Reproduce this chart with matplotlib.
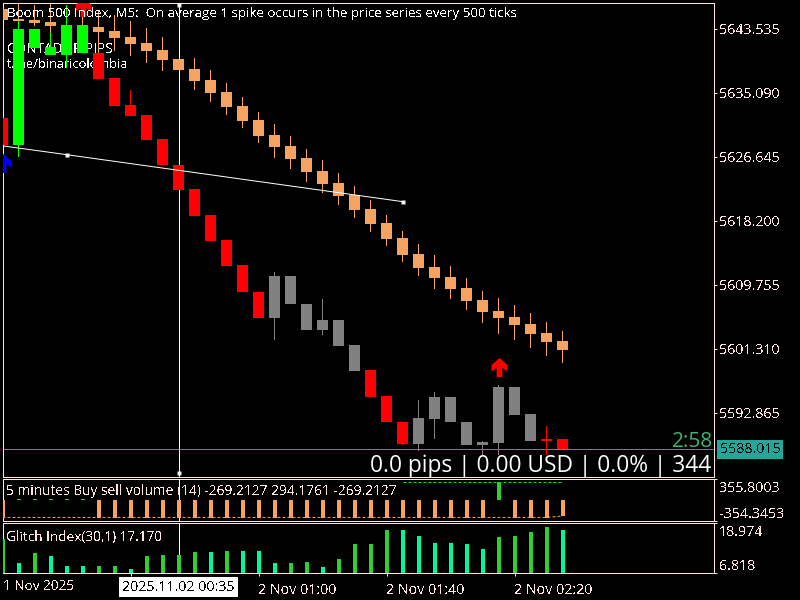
import numpy as np
import matplotlib
matplotlib.use("Agg")
import matplotlib.pyplot as plt
from matplotlib.path import Path

plt.rcParams['font.family'] = ['Open Sans', 'DejaVu Sans']
plt.rcParams['text.antialiased'] = False
plt.rcParams['text.hinting'] = 'native'

# price chart, peach candles
a_open = [5646.17, 5644.86, 5644.72, 5644.46, 5644.06, 5644.06, 5643.80, 5643.27, 5642.48, 5641.69, 5640.76, 5639.58,
          5638.26, 5636.81, 5635.22, 5633.38, 5631.53, 5629.55, 5628.10, 5626.51, 5624.80, 5623.21, 5621.63, 5619.79,
          5617.94, 5615.96, 5613.85, 5612.13, 5610.81, 5609.36, 5607.78, 5606.33, 5605.53, 5604.61, 5603.42, 5602.37]
a_close = [5644.72, 5644.59, 5644.33, 5643.93, 5643.67, 5643.93, 5643.14, 5642.35, 5641.56, 5640.63, 5639.45, 5638.13,
           5636.67, 5635.09, 5633.24, 5631.40, 5629.42, 5627.97, 5626.38, 5624.67, 5623.08, 5621.50, 5619.65, 5617.81,
           5615.83, 5613.71, 5612.00, 5610.68, 5609.23, 5607.65, 5606.19, 5605.40, 5604.48, 5603.29, 5602.24, 5601.18]
a_high = [5646.17, 5646.97, 5646.70, 5646.83, 5644.06, 5645.65, 5646.04, 5645.38, 5644.59, 5643.67, 5642.48, 5639.58,
          5639.71, 5638.13, 5636.41, 5634.56, 5632.58, 5631.00, 5629.42, 5627.70, 5626.25, 5624.53, 5622.82, 5620.97,
          5619.00, 5616.88, 5615.16, 5613.71, 5612.26, 5610.68, 5608.96, 5608.04, 5607.12, 5606.06, 5604.87, 5603.69]
a_low = [5644.72, 5643.54, 5643.93, 5643.01, 5643.67, 5643.93, 5640.37, 5640.63, 5639.97, 5639.05, 5637.99, 5638.13,
         5635.49, 5633.90, 5632.19, 5630.47, 5628.49, 5626.51, 5625.06, 5623.35, 5621.90, 5620.31, 5618.60, 5616.75,
         5614.90, 5612.79, 5610.94, 5609.23, 5607.91, 5606.46, 5604.74, 5603.29, 5602.50, 5601.44, 5600.39, 5599.46]

# price chart, green / red / grey candles
b_open = [5631.79, 5643.54, 5643.54, 5641.16, 5644.06, 5644.06, 5640.37, 5637.07, 5633.51, 5632.19, 5629.02, 5625.59,
          5622.42, 5619.00, 5615.69, 5612.40, 5608.83, 5610.94, 5610.94, 5607.25, 5605.13, 5605.13, 5601.84, 5598.54,
          5595.11, 5591.68, 5592.21, 5594.98, 5594.98, 5591.68, 5589.04, 5596.30, 5596.30, 5592.73, 5589.44, 5589.44]
b_close = [5628.23, 5628.23, 5641.03, 5640.11, 5640.11, 5640.37, 5636.94, 5633.38, 5632.06, 5628.89, 5625.59, 5622.29,
           5618.86, 5615.56, 5612.26, 5608.83, 5605.40, 5605.40, 5607.25, 5603.82, 5603.82, 5601.71, 5598.41, 5594.98,
           5591.68, 5588.78, 5588.78, 5592.07, 5591.68, 5588.65, 5588.65, 5588.91, 5592.60, 5589.17, 5589.17, 5588.015]
b_high = [5631.79, 5644.59, 5643.54, 5643.01, 5646.70, 5644.06, 5640.37, 5637.07, 5635.49, 5632.19, 5629.02, 5625.59,
          5622.42, 5619.00, 5615.69, 5612.40, 5608.83, 5611.47, 5610.94, 5607.25, 5607.91, 5605.13, 5601.84, 5598.54,
          5595.11, 5591.68, 5594.58, 5595.64, 5594.98, 5591.68, 5589.17, 5596.56, 5596.30, 5592.73, 5591.15, 5589.44]
b_low = [5628.23, 5626.65, 5641.03, 5640.11, 5638.39, 5640.37, 5636.94, 5633.38, 5632.06, 5628.89, 5625.59, 5622.29,
         5618.86, 5615.56, 5612.26, 5608.83, 5605.40, 5602.50, 5607.25, 5603.82, 5603.16, 5601.71, 5598.41, 5594.98,
         5591.68, 5588.65, 5587.85, 5589.44, 5591.68, 5588.65, 5587.19, 5587.32, 5592.60, 5589.17, 5587.32, 5588.015]
b_kind = list("rggggg" + "r" * 11 + "x" * 6 + "rrr" + "x" * 8 + "rr")

# trend line and markers
trend_idx = [0, 4, 25]
trend_price = [5628.07, 5626.91, 5620.71]
arrow_up_red = [(5, 5646.37), (31, 5598.87)]
arrow_up_blue = [(0, 5625.86)]
cross_idx = 11
cross_ends = [5646.70, 5584.95]
last_price = 5588.015

price_ticks = [5643.535, 5635.090, 5626.645, 5618.200, 5609.755, 5601.310, 5592.865]

# buy sell volume panel
vol_values = [-296] + [15] * 5 + [-296] * 25 + [300] + [-296] * 3 + [-269.21]
vol_upper = [np.nan] * 25 + [300] * 11
vol_lower = [-294] * 35 + [-269.21]

# glitch index panel
glitch_values = [15.08, 9.25, 11.68, 10.95, 8.52, 8.52, 8.52, 8.52, 7.79, 10.95, 11.20, 11.20,
                 11.92, 11.92, 12.17, 12.17, 12.17, 9.25, 9.25, 9.49, 8.28, 10.22, 13.87, 13.87,
                 17.17, 17.17, 15.81, 14.11, 14.11, 13.87, 12.65, 15.57, 15.81, 16.79, 18.00, 17.17]
glitch_kind = list("gsgsssggsggggsgsssggsggggssssssggggs")

date_ticks = [8, 16, 24, 32]
date_labels = ["", "2 Nov 01:00", "2 Nov 01:40", "2 Nov 02:20"]

FRAME = '#ffe4e1'
PEACH = '#f4a460'
TEAL = '#26a69a'
LIME = '#32cd32'
SPRING = '#00fa9a'
FS_NUM = 10.3
FS_TXT = 9.85
W, H = 800, 600
X0, X1 = 3, 714
LW = 0.72
idx = np.arange(36)
body_w = 11 / 16
wick_w = 1 / 16
bar_w = 4 / 16


def make_axes(top, bottom, ylim):
    ax = fig.add_axes([X0 / W, 1 - bottom / H, (X1 - X0) / W, (bottom - top) / H], facecolor='black')
    ax.set_xlim((X0 - 2.5) / 16, (X1 - 2.5) / 16)
    ax.set_ylim(*ylim)
    for s in ax.spines.values():
        s.set_color(FRAME)
        s.set_linewidth(LW)
    ax.yaxis.tick_right()
    ax.tick_params(axis='y', colors=FRAME, length=2.5, width=LW, pad=1.5, labelsize=FS_NUM)
    ax.set_xticks([])
    return ax


def candles(ax, o, c, h, l, colors, z):
    o, c, h, l = np.array(o), np.array(c), np.array(h), np.array(l)
    # wicks as 1px bars, thin lines came out uneven without antialiasing
    ax.bar(idx, h - l, bottom=l, width=wick_w, color=colors, linewidth=0, zorder=z, antialiased=False)
    top = np.maximum(o, c)
    bot = np.minimum(o, c)
    ax.bar(idx, top - bot, bottom=bot, width=body_w, color=colors, linewidth=0, zorder=z, antialiased=False)


def side_label(ax, value, text, dy):
    ax.annotate(text, xy=(1, value), xycoords=('axes fraction', 'data'), xytext=(5, dy),
                textcoords='offset pixels', color=FRAME, fontsize=FS_NUM, va='center', ha='left', annotation_clip=False)


fig = plt.figure(figsize=(W / 100, H / 100), dpi=100, facecolor='black')

arrow = Path([(0, 1), (.84, .26), (.84, -.44), (.3, -.05), (.3, -1), (-.3, -1), (-.3, -.05), (-.84, -.44), (-.84, .26), (0, 1)],
             closed=True)

# main pane
ax1 = make_axes(3, 477, (5584.37, 5646.92))
ax1.set_yticks(price_ticks, [f"{p:.3f}" for p in price_ticks])
ax1.axhline(last_price, color=TEAL, linewidth=LW, zorder=1)
ax1.axvline(cross_idx, color='white', linewidth=LW, zorder=1)
ax1.text(4 / 711, 1 - 46 / 474, "CONTADOR PIPS", transform=ax1.transAxes, color='white', fontsize=9.8, va='center', zorder=2)
ax1.text(4 / 711, 1 - 61 / 474, "t.me/binaricolombia", transform=ax1.transAxes, color='white', fontsize=9.3, va='center', zorder=2)
candles(ax1, a_open, a_close, a_high, a_low, [PEACH] * 36, 3)
b_colors = {'g': '#00ff00', 'r': '#ff0000', 'x': '#808080'}
candles(ax1, b_open, b_close, b_high, b_low, [b_colors[k] for k in b_kind], 4)
ax1.plot(trend_idx, trend_price, color='white', linewidth=LW, zorder=5)
ax1.plot(trend_idx[1:], trend_price[1:], ls='none', marker='s', ms=3.5, mfc='#fff5f5', mec='none', zorder=6)
ax1.plot([cross_idx] * 2, cross_ends, ls='none', marker='s', ms=3.5, mfc='#fff5f5', mec='none', zorder=6)
ax1.plot(*zip(*arrow_up_red), ls='none', marker=arrow, ms=13.7, mfc='#ff0000', mec='none', zorder=6)
ax1.plot(*zip(*arrow_up_blue), ls='none', marker=arrow, ms=13.7, mfc='#0000ff', mec='none', zorder=6)
ax1.text(4 / 711, 1 - 11 / 474, "Boom 500 Index, M5:  On average 1 spike occurs in the price series every 500 ticks",
         transform=ax1.transAxes, color='white', fontsize=9.65, va='center', zorder=7)
ax1.text(1 - 1 / 711, 1 - 438 / 474, "2:58", transform=ax1.transAxes, color='#3cb371', fontsize=15,
         ha='right', va='center', zorder=7, antialiased=True)
ax1.text(1 - 3 / 711, 1 - 463 / 474, "0.0 pips | 0.00 USD | 0.0% | 344", transform=ax1.transAxes, color='white',
         fontsize=16.4, ha='right', va='center', zorder=7, antialiased=True)
ax1.annotate(f"{last_price:.3f}", xy=(1, last_price), xycoords=('axes fraction', 'data'), xytext=(6, 0),
             textcoords='offset pixels', color='black', fontsize=FS_NUM, va='center', ha='left', annotation_clip=False,
             bbox=dict(boxstyle='square,pad=0.2', fc=TEAL, ec='none'))

# buy sell volume pane
ax2 = make_axes(479, 521, (-354.3453, 355.8003))
ax2.set_yticks([355.8003, -354.3453], ["", ""])
ax2.axvline(cross_idx, color='white', linewidth=LW, zorder=1)
vol_colors = [LIME if v > 0 else PEACH for v in vol_values]
ax2.bar(idx, vol_values, width=bar_w, color=vol_colors, linewidth=0, zorder=3, antialiased=False)
ax2.plot(idx, vol_upper, color=LIME, linewidth=LW, ls=(0, (3, 2)), zorder=2)
ax2.plot(idx, vol_lower, color=PEACH, linewidth=LW, ls=(0, (3, 2)), zorder=2)
ax2.text(3 / 711, 1 - 12 / 42, "5 minutes Buy sell volume (14) -269.2127 294.1761 -269.2127",
         transform=ax2.transAxes, color=FRAME, fontsize=9.95, va='center', zorder=4)
side_label(ax2, 355.8003, "355.8003", -9)
side_label(ax2, -354.3453, "-354.3453", 7)

# glitch index pane
ax3 = make_axes(523, 573, (6.818, 18.974))
ax3.set_yticks([18.974, 6.818], ["", ""])
ax3.axvline(cross_idx, color='white', linewidth=LW, zorder=1)
ax3.bar(idx, np.array(glitch_values) - 6.818, bottom=6.818, width=bar_w,
        color=[LIME if k == 'g' else SPRING for k in glitch_kind], linewidth=0, zorder=3, antialiased=False)
ax3.text(3 / 711, 1 - 14 / 50, "Glitch Index(30,1) 17.170", transform=ax3.transAxes, color=FRAME,
         fontsize=FS_TXT, va='center', zorder=4)
side_label(ax3, 18.974, "18.974", -9)
side_label(ax3, 6.818, "6.818", 7)

# time axis
ax3.set_xticks(date_ticks, date_labels, ha='left')
ax3.tick_params(axis='x', colors=FRAME, length=2.5, width=LW, pad=4.5, labelsize=FS_NUM)
ax3.text(0, -13 / 50, "1 Nov 2025", transform=ax3.transAxes, color=FRAME, fontsize=FS_TXT, va='center', ha='left')
ax3.text(cross_idx, -14 / 50, "2025.11.02 00:35", transform=ax3.get_xaxis_transform(), color='black', fontsize=FS_NUM,
         ha='center', va='center', clip_on=False,
         bbox=dict(boxstyle='square,pad=0.2', fc='white', ec='none'))

fig.savefig("out.png", dpi=100, facecolor='black')
